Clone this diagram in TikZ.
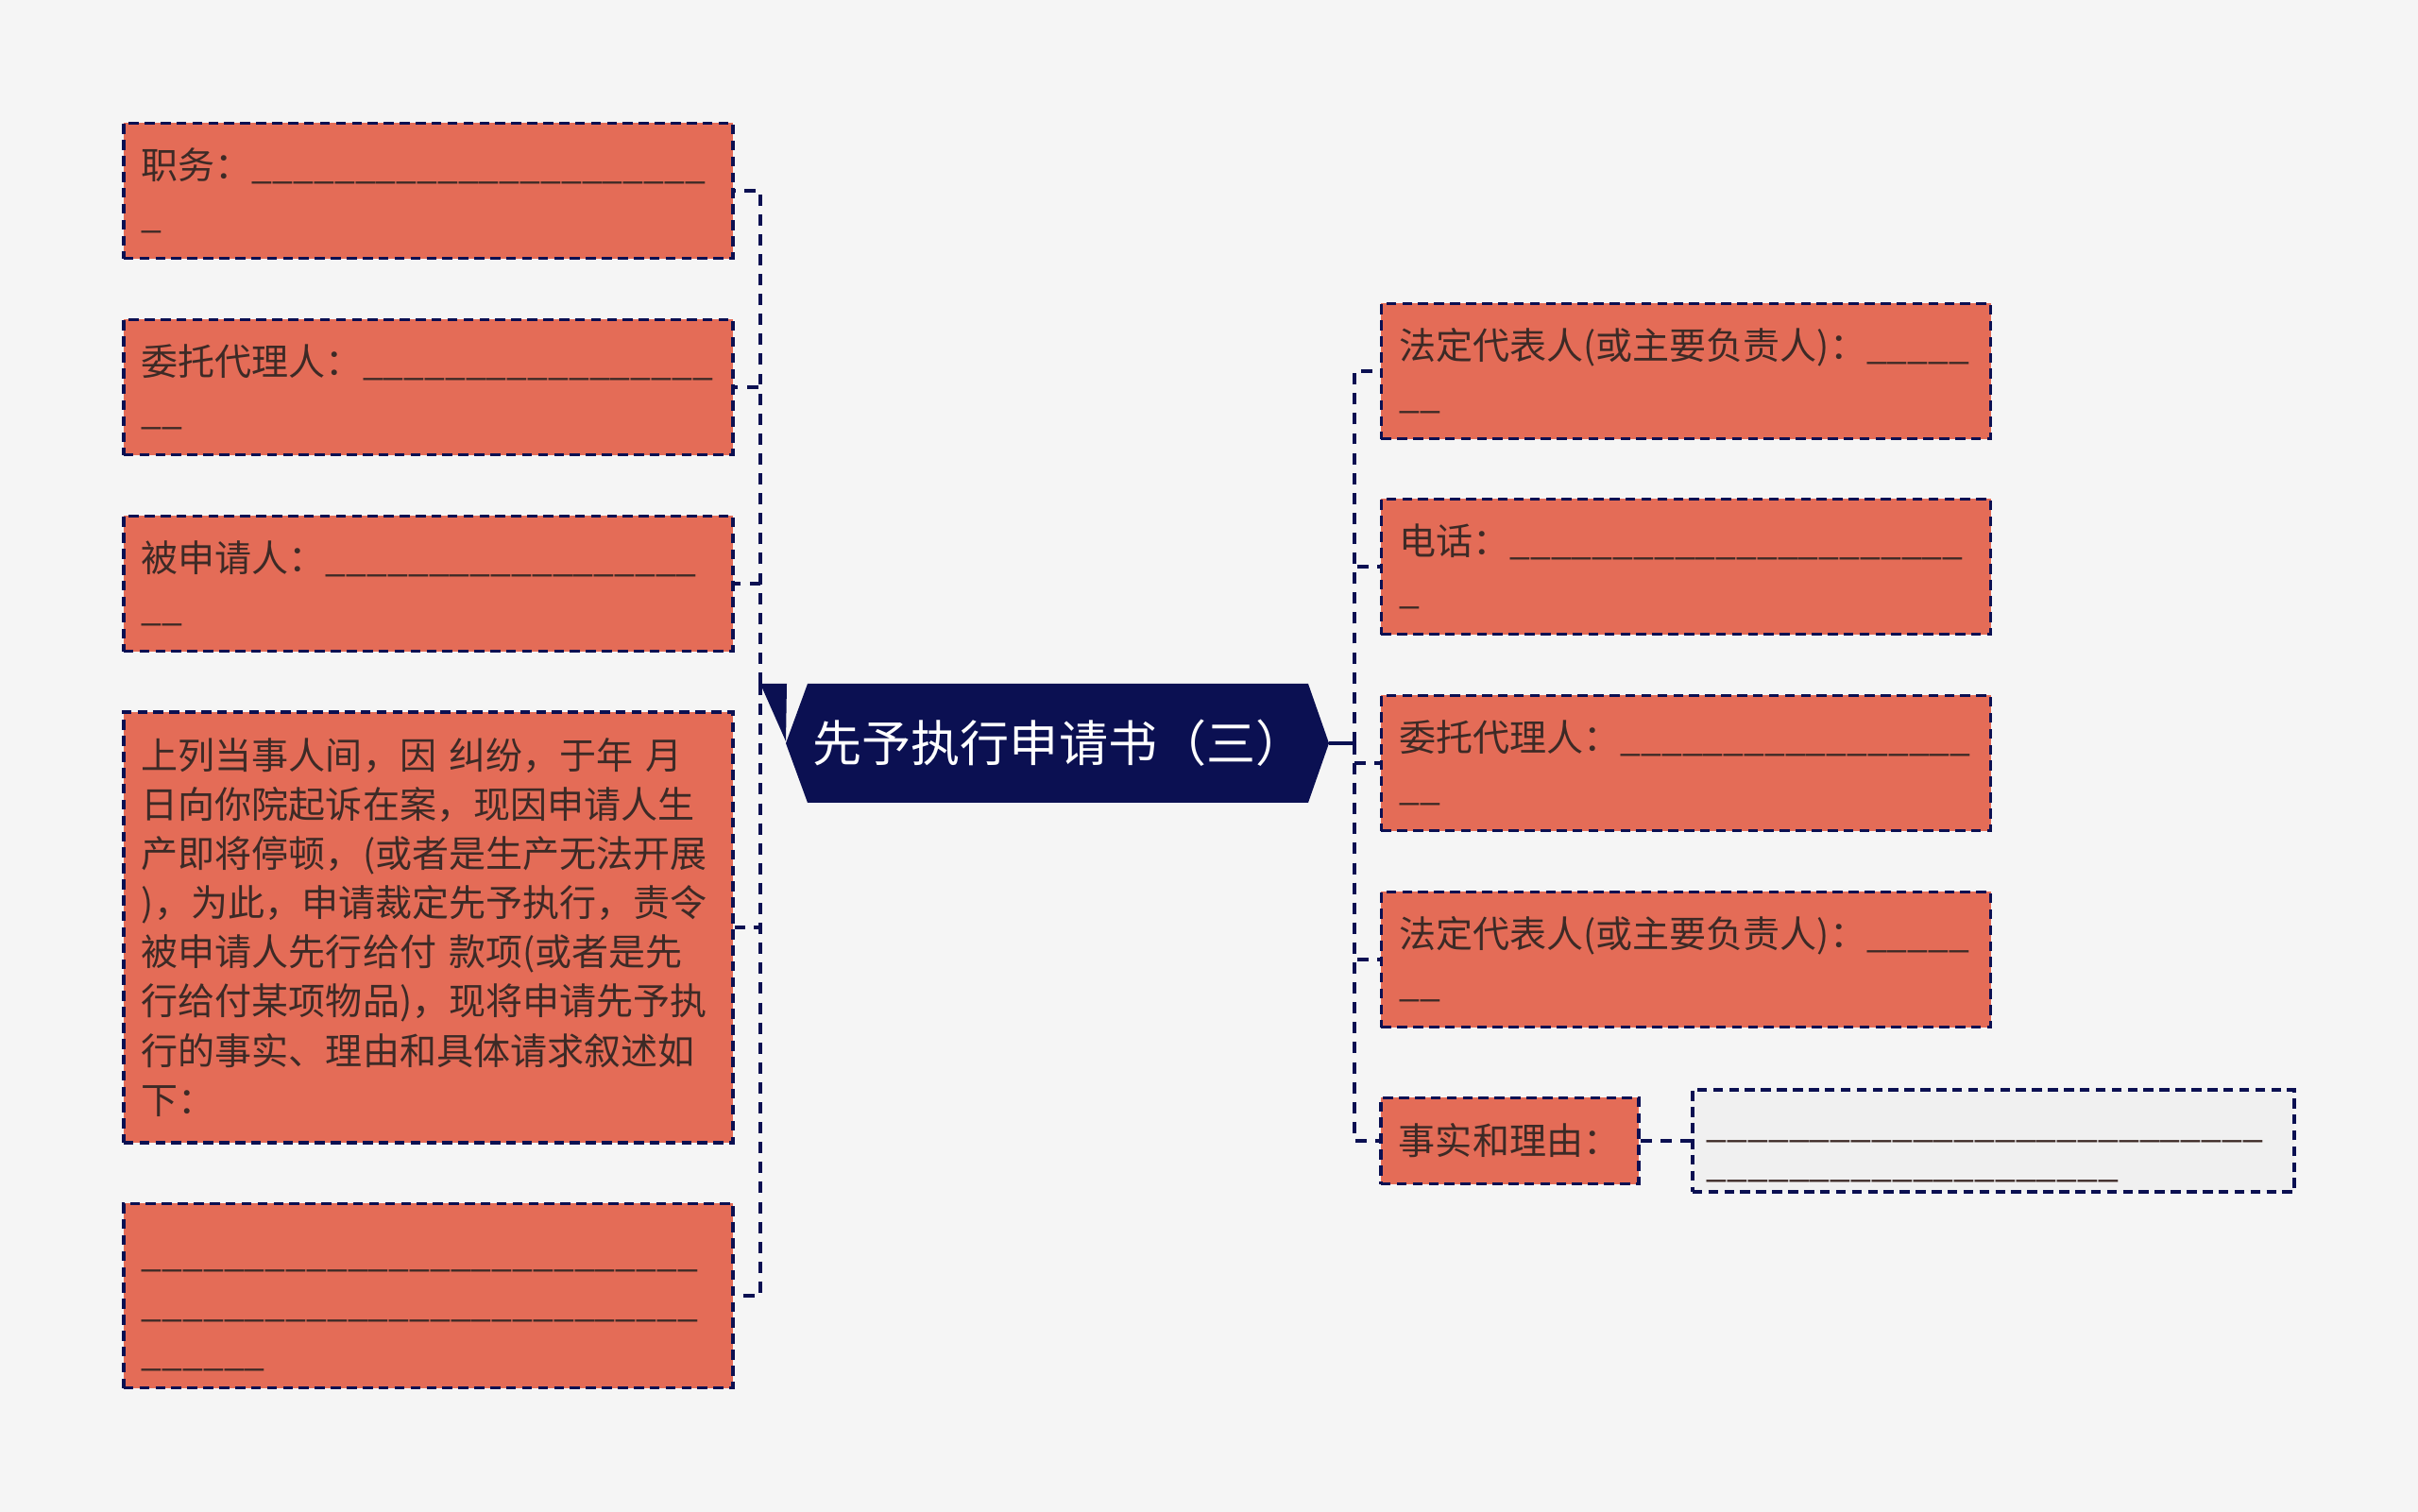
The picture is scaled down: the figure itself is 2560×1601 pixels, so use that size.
\documentclass[tikz,border=0pt]{standalone}
\usepackage{fontspec}
\setmainfont{Noto Sans CJK SC}
\definecolor{bg}{HTML}{F5F5F5}
\definecolor{salmon}{HTML}{E46C57}
\definecolor{navy}{HTML}{0B1052}
\definecolor{ink}{HTML}{3D2A26}
\definecolor{blankfill}{HTML}{F0F0F0}
\newcommand{\blank}[1]{\foreach \k in {1,...,#1}{\_}}

\begin{document}
\begin{tikzpicture}[x=0.01cm, y=-0.01cm,
	box/.style={draw=navy, line width=1pt, dash pattern=on 3pt off 1.8pt,
		fill=salmon, text=ink, minimum width=6.45cm, minimum height=1.43cm,
		inner xsep=0.19cm, inner ysep=0pt, text width=6.07cm, align=left,
		font=\fontsize{11.1pt}{14.8pt}\selectfont},
	link/.style={draw=navy, line width=1.3pt, dash pattern=on 3.4pt off 2.6pt}]
	\fill[bg] (0,0) rectangle (2560,1601);
	\useasboundingbox (0,0) rectangle (2560,1601);

	% left branch
	\node[box] (job) at (453.5,202) {职务：\blank{22}\\\blank{1}};
	\node[box] (agent) at (453.5,410) {委托代理人：\blank{17}\\\blank{2}};
	\node[box] (respondent) at (453.5,618) {被申请人：\blank{18}\\\blank{2}};
	\node[box, minimum height=4.56cm] (facts) at (453.5,982) {上列当事人间，因 纠纷，于年 月\\
		日向你院起诉在案，现因申请人生\\
		产即将停顿，(或者是生产无法开展\\
		)，为此，申请裁定先予执行，责令\\
		被申请人先行给付 款项(或者是先\\
		行给付某项物品)，现将申请先予执\\
		行的事实、理由和具体请求叙述如\\
		下：};
	\node[box, minimum height=1.95cm, text height=0.45cm, text depth=1.05cm] (lines) at (453.5,1372) {\blank{27}\\\blank{27}\\\blank{6}};

	% root
	\fill[navy] (832,787) -- (855,724) -- (1385,724) -- (1407,787) -- (1385,850) -- (855,850) -- cycle;
	\node[text=white, font=\fontsize{14.8pt}{17pt}\selectfont] (root) at (1121,787) {先予执行申请书（三）};
	\coordinate (lspine) at (805,724);
	\coordinate (rtip) at (1407,787);
	\coordinate (rspine) at (1434,787);
	\fill[navy] (lspine) -- (833,724) -- (832,785) -- cycle;

	% right branch
	\node[box] (legal) at (1785,393) {法定代表人(或主要负责人)：\blank{5}\\\blank{2}};
	\node[box] (phone) at (1785,600) {电话：\blank{22}\\\blank{1}};
	\node[box] (agentb) at (1785,808) {委托代理人：\blank{17}\\\blank{2}};
	\node[box] (legalb) at (1785,1016) {法定代表人(或主要负责人)：\blank{5}\\\blank{2}};
	\node[box, minimum width=2.73cm, minimum height=0.91cm, text width=2.35cm] (reason) at (1598.5,1208) {事实和理由：};
	\node[box, fill=blankfill, minimum width=6.37cm, minimum height=1.08cm,
		inner xsep=0.15cm, text width=6.07cm, text height=0.45cm, text depth=0.51cm,
		font=\fontsize{11.1pt}{11.7pt}\selectfont]
		(reasonblank) at (2110.5,1208) {\blank{27}\\\blank{20}};

	\draw[link] (lspine) |- (job.east);
	\draw[link] (lspine) |- (agent.east);
	\draw[link] (lspine) |- (respondent.east);
	\draw[link] (lspine) |- (facts.east);
	\draw[link] (lspine) |- (lines.east);
	\draw[navy, line width=1.3pt] (rtip) -- (rspine);
	\draw[link] (rspine) |- (legal.west);
	\draw[link] (rspine) |- (phone.west);
	\draw[link] (rspine) |- (agentb.west);
	\draw[link] (rspine) |- (legalb.west);
	\draw[link] (rspine) |- (reason.west);
	\draw[link] (reason.east) -- (reasonblank.west);
\end{tikzpicture}
\end{document}
